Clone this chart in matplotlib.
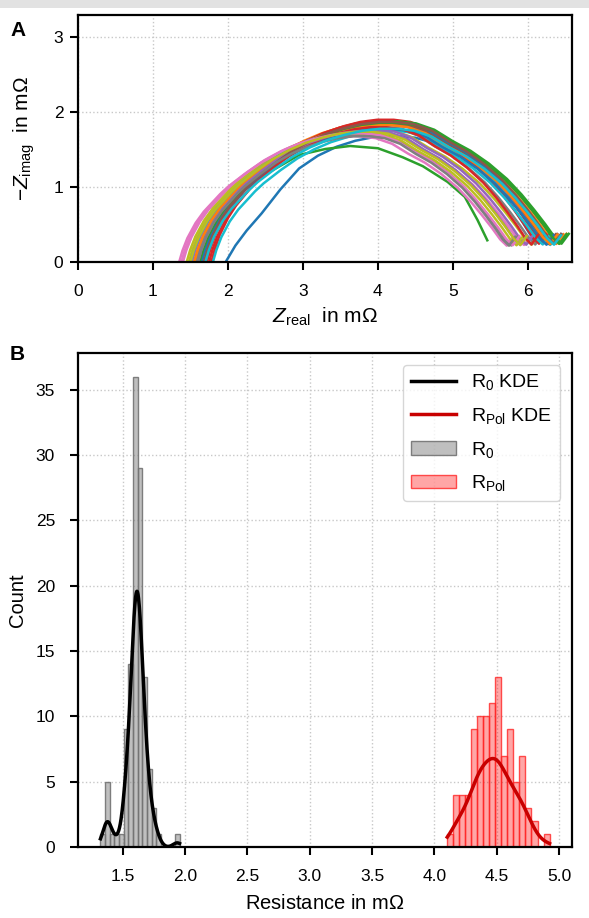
import numpy as np
import matplotlib
matplotlib.use("Agg")
import matplotlib.pyplot as plt
from matplotlib.patches import Rectangle

plt.rcParams.update({
    "font.family": ["Liberation Sans", "DejaVu Sans"],
    "mathtext.fontset": "custom",
    "mathtext.rm": "Liberation Sans",
    "mathtext.it": "Liberation Sans:italic",
    "mathtext.bf": "Liberation Sans:bold",
    "font.size": 12,
    "axes.linewidth": 1.6,
})

# --- panel A: Nyquist curves -------------------------------------------
# shape of a typical arc (fraction of width, fraction of peak height)
tmpl_t = [0.0, 0.01, 0.025, 0.05, 0.075, 0.10, 0.125, 0.15, 0.20, 0.25,
          0.30, 0.35, 0.40, 0.45, 0.50, 0.55, 0.60, 0.65, 0.70, 0.75,
          0.80, 0.85, 0.89, 0.925, 0.955, 0.98, 1.00, 1.02]
tmpl_y = [0.0, 0.09, 0.19, 0.31, 0.40, 0.47, 0.54, 0.60, 0.70, 0.79,
          0.86, 0.915, 0.955, 0.985, 1.0, 1.0, 0.985, 0.94, 0.86, 0.79,
          0.70, 0.59, 0.48, 0.37, 0.27, 0.18, 0.13, 0.20]

# start on the real axis, end of the arc, peak height (mOhm)
nyq_start = [1.58, 1.78, 1.62, 1.65, 1.40, 1.62, 1.45, 1.80, 1.60, 1.55,
             1.60, 1.72, 1.52, 1.63, 1.35, 1.58, 1.48, 1.50, 1.65, 1.55,
             1.62, 1.75, 1.60, 1.68, 1.38, 1.60, 1.50, 1.70]
nyq_end = [6.38, 6.20, 6.25, 6.30, 5.95, 6.10, 6.05, 6.30, 6.35, 6.42,
           6.45, 6.15, 5.98, 6.28, 5.72, 5.78, 5.85, 6.20, 6.25, 6.30,
           6.42, 6.05, 5.90, 6.35, 5.80, 5.75, 5.90, 6.35]
nyq_peak = [1.85, 1.90, 1.83, 1.87, 1.75, 1.80, 1.78, 1.75, 1.86, 1.88,
            1.88, 1.88, 1.78, 1.85, 1.68, 1.70, 1.72, 1.80, 1.78, 1.83,
            1.86, 1.80, 1.75, 1.87, 1.72, 1.68, 1.74, 1.78]

# two measurements that do not follow the bundle
first_x = [1.97, 2.10, 2.25, 2.45, 2.70, 2.95, 3.20, 3.45, 3.70, 3.95, 4.20,
           4.50, 4.80, 5.10, 5.40, 5.65, 5.85, 6.00, 6.10, 6.18]
first_y = [0.0, 0.22, 0.42, 0.65, 0.97, 1.25, 1.42, 1.54, 1.62, 1.67, 1.69,
           1.66, 1.58, 1.44, 1.22, 0.95, 0.66, 0.42, 0.26, 0.36]
short_x = [1.55, 1.70, 1.90, 2.20, 2.50, 2.95, 3.30, 3.63, 4.00, 4.33, 4.60,
           4.93, 5.16, 5.33, 5.46]
short_y = [0.0, 0.30, 0.60, 0.95, 1.17, 1.43, 1.51, 1.55, 1.52, 1.40, 1.28,
           1.07, 0.87, 0.56, 0.29]

# --- panel B: histograms ------------------------------------------------
r0_edges = np.linspace(1.323, 1.957, 18)
r0_counts = [1, 5, 1, 1, 1, 9, 14, 36, 29, 13, 6, 3, 1, 0, 0, 0, 1]
rpol_edges = np.linspace(4.103, 4.923, 18)
rpol_counts = [1, 4, 4, 4, 9, 10, 10, 11, 13, 7, 9, 5, 7, 3, 2, 0, 1]


def kde_line(edges, counts, scale):
    centers = (edges[:-1] + edges[1:]) / 2
    samples = np.repeat(centers, counts)
    n = samples.size
    bw = samples.std(ddof=1) * n ** -0.2
    grid = np.linspace(edges[0], edges[-1], 300)
    dens = np.exp(-0.5 * ((grid[:, None] - samples[None, :]) / bw) ** 2).sum(1)
    dens /= n * bw * np.sqrt(2 * np.pi)
    return grid, dens * n * np.diff(edges).mean() * scale


fig = plt.figure(figsize=(5.89, 9.18), dpi=100)
fig.add_artist(Rectangle((0, 1 - 8 / 918), 1, 8 / 918, transform=fig.transFigure,
                         color="#e2e2e2", lw=0))

W, H = 589, 918
axA = fig.add_axes([78 / W, 1 - 262 / H, 494 / W, 247 / H])
axB = fig.add_axes([78 / W, 1 - 847 / H, 494 / W, 494 / H])

colors = plt.rcParams["axes.prop_cycle"].by_key()["color"]
t = np.array(tmpl_t)
ty = np.array(tmpl_y)
axA.plot(first_x, first_y, color=colors[0], lw=1.8)
k = 1
for s, e, p in zip(nyq_start, nyq_end, nyq_peak):
    if k == 2:
        axA.plot(short_x, short_y, color=colors[2], lw=1.8)
        k += 1
    axA.plot(s + t * (e - s), ty * p, color=colors[k % 10], lw=1.8)
    k += 1

axA.set_xlim(0, 6.59)
axA.set_ylim(0, 3.3)
axA.set_xticks(range(7))
axA.set_yticks(range(4))
axA.set_xlabel(r"$Z_\mathrm{real}$  in m$\Omega$", fontsize=15, labelpad=5)
axA.set_ylabel(r"$-Z_\mathrm{imag}$  in m$\Omega$", fontsize=15, labelpad=12)

bars0 = axB.bar(r0_edges[:-1], r0_counts, width=np.diff(r0_edges), align="edge",
                facecolor=(0.5, 0.5, 0.5, 0.5), edgecolor=(0.45, 0.45, 0.45, 0.9),
                lw=1, label=r"R$_0$")
barsp = axB.bar(rpol_edges[:-1], rpol_counts, width=np.diff(rpol_edges), align="edge",
                facecolor=(1, 0, 0, 0.35), edgecolor=(1, 0.15, 0.15, 0.8),
                lw=1, label=r"R$_\mathrm{Pol}$")
gx, gy = kde_line(r0_edges, r0_counts, 0.69)
l0, = axB.plot(gx, gy, color="black", lw=2.5, label=r"R$_0$ KDE")
rx, ry = kde_line(rpol_edges, rpol_counts, 0.64)
lp, = axB.plot(rx, ry, color="#c80000", lw=2.5, label=r"R$_\mathrm{Pol}$ KDE")

axB.set_xticks(np.arange(1.5, 5.01, 0.5))
axB.set_yticks(range(0, 36, 5))
axB.set_xlabel(r"Resistance in m$\Omega$", fontsize=14.5, labelpad=7)
axB.set_ylabel("Count", fontsize=14.5, labelpad=6)
axB.legend(handles=[l0, lp, bars0, barsp], loc="upper right", fontsize=14,
           handlelength=2.3, labelspacing=0.7, edgecolor="#cccccc",
           borderaxespad=0.6)

for ax in (axA, axB):
    ax.grid(True, ls=":", color="#c8c8c8", lw=1)
    ax.set_axisbelow(True)
    ax.tick_params(direction="out", length=5.5, width=1.5, labelsize=12.5)
    ax.tick_params(axis="x", pad=10.5)
axA.tick_params(axis="y", pad=5)
axB.tick_params(axis="y", pad=11)

fig.text(10 / W, 1 - 30 / H, "A", fontsize=15, fontweight="bold", va="center")
fig.text(10 / W, 1 - 355 / H, "B", fontsize=15, fontweight="bold", va="center")

fig.savefig("out.png", dpi=100)
